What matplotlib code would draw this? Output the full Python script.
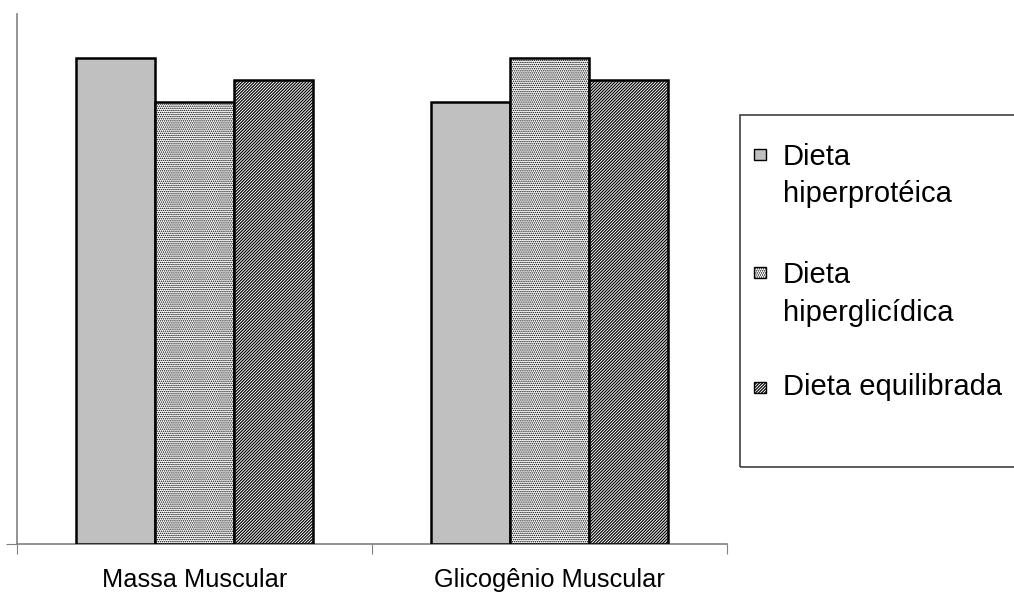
import numpy as np
import matplotlib.pyplot as plt
from matplotlib.patches import Rectangle
from matplotlib.transforms import blended_transform_factory

plt.rcParams['font.family'] = ['Liberation Sans', 'DejaVu Sans']

categories = ['Massa Muscular', 'Glicogênio Muscular']
series_names = ['Dieta hiperprotéica', 'Dieta hiperglicídica', 'Dieta equilibrada']
legend_lines = [['Dieta', 'hiperprotéica'], ['Dieta', 'hiperglicídica'], ['Dieta equilibrada']]
hiperproteica = [1.10, 1.00]
hiperglicidica = [1.00, 1.10]
equilibrada = [1.05, 1.05]
values = [hiperproteica, hiperglicidica, equilibrada]

faces = ['#c0c0c0', 'white', 'white']
hatches = [None, '........', '/' * 11]
hatch_lw = [0.6, 0.7, 0.85]

W, H = 1014, 592
fig = plt.figure(figsize=(W / 100, H / 100), dpi=100)
ax = fig.add_axes([17 / W, 48 / H, (727 - 17) / W, (544 - 14) / H])

x = np.arange(len(categories)) + 0.5
w = 1 / 4.5
for i, vals in enumerate(values):
    plt.rcParams['hatch.linewidth'] = hatch_lw[i]
    ax.bar(x + (i - 1) * w, vals, w, color=faces[i], edgecolor='black',
           linewidth=1.8, hatch=hatches[i], zorder=3)

ax.set_xlim(0, len(categories))
ax.set_ylim(0, 1.2)
ax.set_xticks([0, 1, 2])
ax.set_xticklabels([])
ax.tick_params(axis='x', length=7, color='#808080', direction='out')
ax.set_yticks([0])
ax.set_yticklabels([])
ax.tick_params(axis='y', length=8, color='#808080')
for s in ['top', 'right']:
    ax.spines[s].set_visible(False)
for s in ['left', 'bottom']:
    ax.spines[s].set_color('#808080')
    ax.spines[s].set_linewidth(1.2)

# category labels, baseline just above the bottom edge
trans = blended_transform_factory(ax.transData, fig.transFigure)
for xi, c in zip(x, categories):
    ax.text(xi, 1 - 587 / H, c, transform=trans, ha='center', va='baseline',
            fontsize=18.3)

# legend drawn by hand, clipped at the right edge like the original
def fx(px):
    return px / W

def fy(py):
    return 1 - py / H

fig.patches.append(Rectangle((fx(740), fy(467)), fx(300), (467 - 115) / H,
                             transform=fig.transFigure, fill=False,
                             edgecolor='#404040', linewidth=1.2))
marker_tops = [149, 267, 382]
baselines = [[165, 202], [283, 321], [395]]
for i in range(3):
    plt.rcParams['hatch.linewidth'] = hatch_lw[i]
    fig.patches.append(Rectangle((fx(754), fy(marker_tops[i] + 11)), fx(12), 11 / H,
                                 transform=fig.transFigure, facecolor=faces[i],
                                 edgecolor='black', linewidth=1, hatch=hatches[i]))
    for line, b in zip(legend_lines[i], baselines[i]):
        fig.text(fx(783), fy(b), line, fontsize=21, va='baseline', ha='left')

fig.savefig('out.png', dpi=100)
